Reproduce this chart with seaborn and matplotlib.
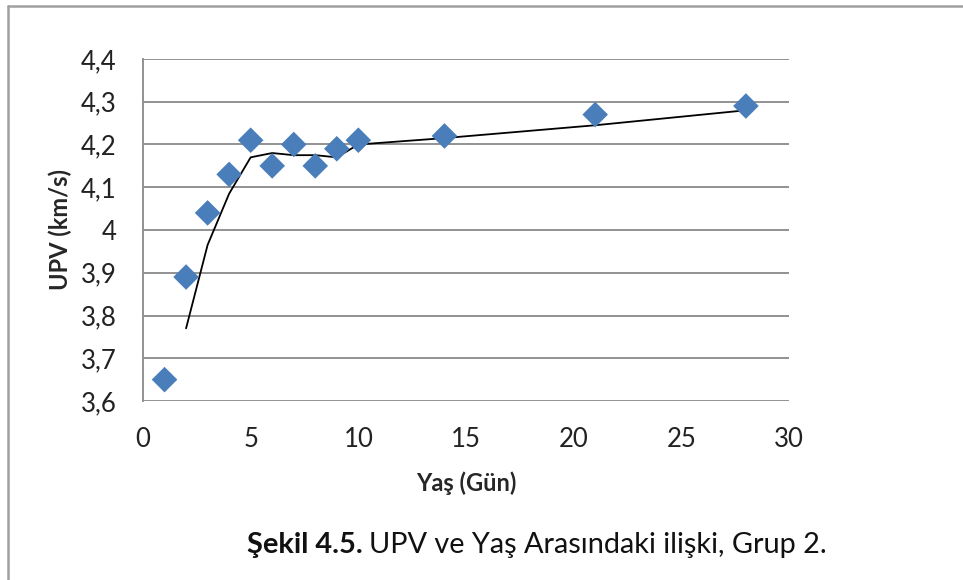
import pandas as pd
import seaborn as sns
import matplotlib.pyplot as plt
from matplotlib.ticker import FuncFormatter, MultipleLocator
from matplotlib.lines import Line2D

# UPV measurements, group 2
yas = [1, 2, 3, 4, 5, 6, 7, 8, 9, 10, 14, 21, 28]
upv = [3.65, 3.89, 4.04, 4.13, 4.21, 4.15, 4.20, 4.15, 4.19, 4.21, 4.22, 4.27, 4.29]

df = pd.DataFrame({"Yas": yas, "UPV": upv})
# Excel style 2-period moving average trendline
df["Trend"] = df["UPV"].rolling(2).mean()

sns.set_theme(style="white")
plt.rcParams["font.family"] = ["Lato", "DejaVu Sans"]

fig = plt.figure(figsize=(9.63, 5.8), dpi=100)
ax = fig.add_axes([0.1485, 0.3086, 0.6708, 0.5897])

grid_col = "#929292"

sns.lineplot(data=df.dropna(), x="Yas", y="Trend", color="black",
             linewidth=1.3, ax=ax, zorder=2)
sns.scatterplot(data=df, x="Yas", y="UPV", marker="D", s=170,
                color="#4a7ebb", edgecolor="none", ax=ax, zorder=3)

ax.set_xlim(0, 30)
ax.set_ylim(3.6, 4.4)
ax.xaxis.set_major_locator(MultipleLocator(5))
ax.yaxis.set_major_locator(MultipleLocator(0.1))

fmt = FuncFormatter(lambda v, p: ("%g" % round(v, 1)).replace(".", ","))
ax.xaxis.set_major_formatter(fmt)
ax.yaxis.set_major_formatter(fmt)

ax.grid(axis="y", color=grid_col, linewidth=1.4)
ax.set_axisbelow(True)
for side in ["top", "right", "bottom"]:
    ax.spines[side].set_visible(False)
ax.spines["left"].set_color(grid_col)
ax.spines["left"].set_linewidth(1.4)

ax.tick_params(axis="both", length=0, labelsize=18.5, colors="#222222")
ax.tick_params(axis="y", pad=19)
ax.tick_params(axis="x", pad=19)

ax.set_xlabel("Yaş (Gün)", fontsize=17, fontweight="bold")
ax.set_ylabel("UPV (km/s)", fontsize=17, fontweight="bold")
ax.xaxis.set_label_coords(0.5, -0.205)
ax.yaxis.set_label_coords(-0.11, 0.5)

# frame around the figure (only left and top edges visible)
fig.add_artist(Line2D([8 / 963, 8 / 963], [0, 1 - 6 / 580],
                      transform=fig.transFigure, color="#a0a0a0", linewidth=1.8))
fig.add_artist(Line2D([8 / 963, 1], [1 - 6 / 580, 1 - 6 / 580],
                      transform=fig.transFigure, color="#a0a0a0", linewidth=1.8))

# caption: bold figure number followed by regular text
cap_y = 1 - 545 / 580
t1 = fig.text(247 / 963, cap_y, "Şekil 4.5.", fontsize=20.8, fontweight="bold",
              va="center", ha="left", color="#111111")
fig.canvas.draw()
bb = t1.get_window_extent()
fig.text(bb.x1 / fig.bbox.width + 0.007, cap_y,
         "UPV ve Yaş Arasındaki ilişki, Grup 2.", fontsize=20.8,
         va="center", ha="left", color="#111111")

plt.savefig("out.png", dpi=100)
plt.close()
